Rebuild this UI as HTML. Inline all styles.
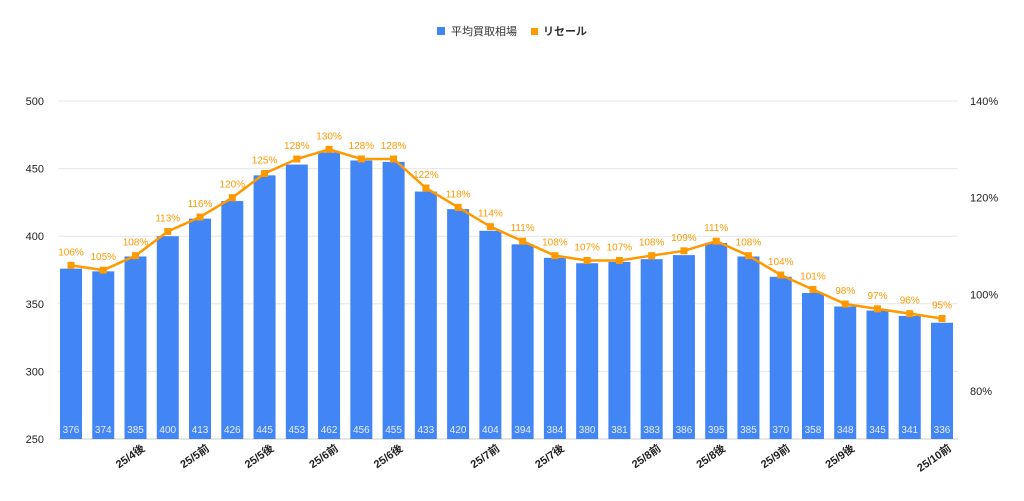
<!DOCTYPE html>
<html><head><meta charset="utf-8"><style>
body{margin:0;background:#fff;width:1024px;height:496px;overflow:hidden}
svg text{font-family:"Liberation Sans","Noto Sans CJK JP",sans-serif}
</style></head><body>
<svg id="c" width="1024" height="496" xmlns="http://www.w3.org/2000/svg">
<g>
<rect x="437" y="27" width="8" height="8" fill="#4285f4"/>
<text x="451" y="35" font-size="11" fill="#333">平均買取相場</text>
<rect x="531" y="28" width="7" height="7" fill="#ff9900"/>
<text x="543" y="35" font-size="11" fill="#333" font-weight="bold">リセール</text>
</g>
<g id="grid"></g><g id="bars"></g><g id="line"></g><g id="xl"></g>
</svg>
<script>
const prices=[376,374,385,400,413,426,445,453,462,456,455,433,420,404,394,384,380,381,383,386,395,385,370,358,348,345,341,336];
const resale=[106,105,108,113,116,120,125,128,130,128,128,122,118,114,111,108,107,107,108,109,111,108,104,101,98,97,96,95];
const leftTicks=[250,300,350,400,450,500];
const rightTicks=[80,100,120,140];
const xLabels=[[2,"25/4後"],[4,"25/5前"],[6,"25/5後"],[8,"25/6前"],[10,"25/6後"],[13,"25/7前"],[15,"25/7後"],[18,"25/8前"],[20,"25/8後"],[22,"25/9前"],[24,"25/9後"],[27,"25/10前"]];
const NS="http://www.w3.org/2000/svg";
const yL=v=>439-(v-250)*338/250;
const yR=v=>391-(v-80)*290/60;
const xC=i=>71+i*(942-71)/27;
function mk(t,a,p){const e=document.createElementNS(NS,t);for(const k in a)e.setAttribute(k,a[k]);document.getElementById(p).appendChild(e);return e;}
leftTicks.forEach(v=>{
 const l=mk('line',{x1:58,x2:958,y1:yL(v),y2:yL(v),stroke:v==250?'#ccc':'#e6e6e6','stroke-width':1},'grid');
 
 
 const t=mk('text',{x:44,y:yL(v)+4,'text-anchor':'end','font-size':11,fill:'#222'},'grid');t.textContent=v;
 
 
});
rightTicks.forEach(v=>{
 const t=mk('text',{x:970,y:yR(v)+4,'font-size':11,fill:'#222'},'grid');t.textContent=v+'%';
 
 
});
prices.forEach((v,i)=>{
 const r=mk('rect',{x:xC(i)-11,y:yL(v),width:22,height:439-yL(v),fill:'#4285f4'},'bars');
 
 
 const t=mk('text',{x:xC(i),y:433,'text-anchor':'middle','font-size':10,fill:'#e8eefc'},'bars');t.textContent=v;
 
 
});
const pl=mk('polyline',{points:resale.map((v,i)=>xC(i)+','+yR(v)).join(' '),fill:'none',stroke:'#ff9900','stroke-width':2.5},'line');


resale.forEach((v,i)=>{
 const p=mk('rect',{x:xC(i)-3.5,y:yR(v)-3.5,width:7,height:7,fill:'#ff9900'},'line');
 
 
 const t=mk('text',{x:xC(i),y:yR(v)-10,'text-anchor':'middle','font-size':10,fill:'#ff9900'},'line');t.textContent=v+'%';
 
 
});
xLabels.forEach(([i,s])=>{
 const x=xC(i)+10,y=450;
 const t=mk('text',{x:x,y:y,'text-anchor':'end','font-size':11,fill:'#222','font-weight':'bold',transform:`rotate(-35 ${x} ${y})`},'xl');t.textContent=s;
 
 
});
</script>
</body></html>
